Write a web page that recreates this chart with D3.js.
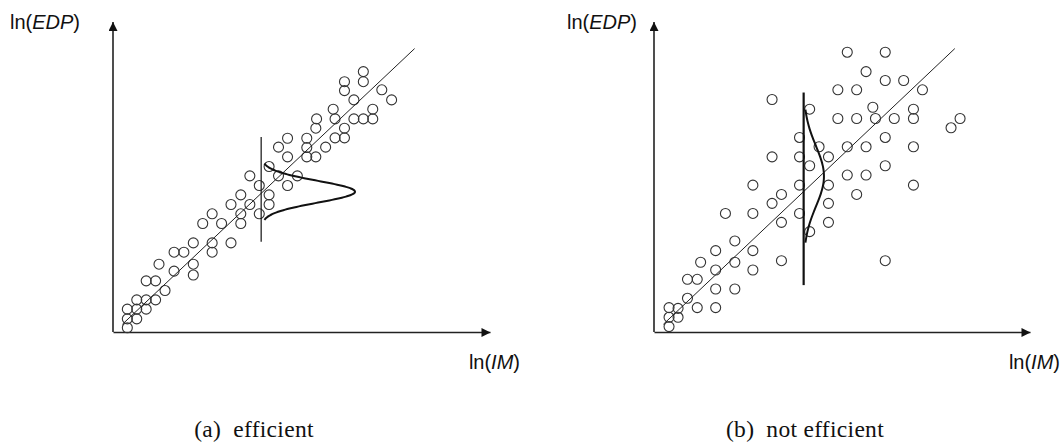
<!DOCTYPE html>
<html>
<head>
<meta charset="utf-8">
<script src="https://cdn.jsdelivr.net/npm/d3@7/dist/d3.min.js"></script>
<style>
  html, body { margin: 0; padding: 0; background: #fff; }
  svg { display: block; }
  .axlab { font-family: "Liberation Sans", Arial, sans-serif; font-size: 20px; fill: #111; }
  .caption { font-family: "Liberation Serif", "Times New Roman", serif; font-size: 23.5px; letter-spacing: 0.3px; fill: #111; }
</style>
</head>
<body>
<svg id="chart" width="1063" height="447"></svg>
<script>
// ln(IM) / ln(EDP) pairs for the efficient measure (small scatter about the fit)
const effIM  = [6.64,6.64,6.14,6.14,7.13,7.39,6.39,6.89,6.89,6.64,6.39,5.84,5.89,5.40,5.38,6.14,6.14,5.89,5.64,5.14,5.14,5.14,5.38,4.63,4.39,4.63,4.14,4.39,4.89,4.63,3.63,3.88,4.14,4.14,3.88,3.63,3.39,3.13,3.39,3.39,2.88,2.63,2.38,2.63,2.63,3.13,2.13,2.13,2.13,1.88,1.62,1.62,1.22,1.13,0.88,1.38,1.13,0.88,0.63,0.88,0.63,0.38,0.63,0.38,0.38];
const effEDP = [6.72,6.46,6.46,6.23,6.25,5.99,5.99,5.75,5.50,5.50,5.50,5.75,5.50,5.50,5.26,5.26,5.01,5.01,4.77,5.00,4.76,4.52,4.52,5.00,4.77,4.52,4.27,4.03,4.03,3.78,4.03,3.78,3.54,3.29,3.05,3.29,3.54,3.29,3.05,2.80,2.80,3.05,2.80,2.30,2.06,2.30,2.30,1.75,1.47,2.06,2.06,1.57,1.75,1.32,1.32,1.07,0.83,0.83,0.83,0.59,0.59,0.59,0.34,0.34,0.11];

// ln(IM) / ln(EDP) pairs for the inefficient measure (wide scatter about the fit)
const ineffIM  = [5.14,6.15,5.64,6.15,6.64,7.14,4.89,5.39,3.14,4.14,5.82,6.90,4.89,5.39,5.89,6.39,6.90,7.90,8.14,6.15,3.87,4.39,5.14,5.64,6.90,3.14,3.87,4.64,4.14,6.15,5.14,5.64,2.63,3.87,4.64,6.90,5.39,3.39,3.14,4.64,1.90,2.63,3.87,3.39,4.64,4.14,2.15,1.64,2.63,1.24,2.15,3.39,6.15,1.64,2.63,0.89,1.15,1.64,2.15,0.89,1.15,1.64,0.40,0.64,0.64,0.40,0.40];
const ineffEDP = [7.22,7.22,6.72,6.49,6.49,6.25,6.25,6.25,6.00,5.75,5.80,5.75,5.51,5.51,5.51,5.51,5.51,5.27,5.51,5.02,5.02,4.78,4.78,4.78,4.78,4.52,4.52,4.52,4.29,4.29,4.05,4.05,3.79,3.79,3.79,3.79,3.55,3.55,3.32,3.32,3.06,3.06,3.06,2.83,2.83,2.59,2.35,2.10,2.10,1.80,1.80,1.84,1.84,1.60,1.60,1.36,1.36,1.11,1.11,0.87,0.63,0.63,0.63,0.61,0.38,0.38,0.14];

// Fitted median line ln(EDP) = a + b ln(IM), drawn over this ln(IM) span
const fitIntercept = -0.03;
const fitSlope = 0.918;
const fitIM = [0.25, 8.0];

// Conditional distribution of ln(EDP) at a given ln(IM): [im, mean, sd, peak height, stem bottom, stem top, half-span in sd]
const effDist   = [3.93, 3.62, 0.28, 2.49, 2.33, 5.03, 2.6];
const ineffDist = [3.98, 4.02, 0.78, 0.54, 1.21, 6.18, 2.2];

const panelTitles = ["(a)\u2002efficient", "(b)\u2002not efficient"];
const yTitle = ["ln(", "EDP", ")"];
const xTitle = ["ln(", "IM", ")"];

const svg = d3.select("#chart");

const defs = svg.append("defs");
defs.append("marker")
  .attr("id", "arrow")
  .attr("viewBox", "0 0 10 10")
  .attr("refX", 10).attr("refY", 5)
  .attr("markerUnits", "userSpaceOnUse")
  .attr("markerWidth", 10).attr("markerHeight", 9)
  .attr("orient", "auto")
  .append("path")
  .attr("d", "M0,0 L10,5 L0,10 Z")
  .attr("fill", "#111");

function drawPanel(cfg) {
  const x = d3.scaleLinear().domain([0, 10]).range(cfg.xRange);
  const y = d3.scaleLinear().domain([0, 8]).range([332, 22]);
  const g = svg.append("g");

  // axes without ticks, arrow at the far end of each
  const xAxis = g.append("g")
    .attr("transform", `translate(0,${y(0)})`)
    .call(d3.axisBottom(x).tickValues([]).tickSizeOuter(0));
  xAxis.select(".domain")
    .attr("stroke", "#222").attr("stroke-width", 1.6)
    .attr("marker-end", "url(#arrow)");

  const yAxis = g.append("g")
    .attr("transform", `translate(${x(0)},0)`)
    .call(d3.axisLeft(y).tickValues([]).tickSizeOuter(0));
  yAxis.select(".domain")
    .attr("stroke", "#222").attr("stroke-width", 1.6)
    .attr("d", `M0,${y(0)}V${y(8)}`)
    .attr("marker-end", "url(#arrow)");

  // scatter points
  g.append("g").selectAll("circle")
    .data(d3.zip(cfg.im, cfg.edp))
    .join("circle")
    .attr("cx", d => x(d[0]))
    .attr("cy", d => y(d[1]))
    .attr("r", 5)
    .attr("fill", "none")
    .attr("stroke", "#333")
    .attr("stroke-width", 1.1);

  // fitted line
  g.append("line")
    .attr("x1", x(fitIM[0])).attr("y1", y(fitIntercept + fitSlope * fitIM[0]))
    .attr("x2", x(fitIM[1])).attr("y2", y(fitIntercept + fitSlope * fitIM[1]))
    .attr("stroke", "#222").attr("stroke-width", 1);

  // conditional distribution: vertical stem plus a normal density drawn sideways
  const [im, mu, sd, peak, lo, hi, span] = cfg.dist;
  g.append("line")
    .attr("x1", x(im)).attr("x2", x(im))
    .attr("y1", y(lo)).attr("y2", y(hi))
    .attr("stroke", "#111").attr("stroke-width", cfg.stemWidth);

  const ys = d3.range(-span, span + 0.001, 0.05).map(k => mu + k * sd);
  const density = d3.line()
    .x(v => x(im + peak * Math.exp(-0.5 * ((v - mu) / sd) ** 2)))
    .y(v => y(v))
    .curve(d3.curveBasis);
  g.append("path")
    .datum(ys)
    .attr("d", density)
    .attr("fill", "none")
    .attr("stroke", "#111")
    .attr("stroke-width", 2);

  // axis titles
  const yt = g.append("text").attr("class", "axlab")
    .attr("x", cfg.yTitleX).attr("y", 29);
  yt.append("tspan").text(yTitle[0]);
  yt.append("tspan").attr("font-style", "italic").text(yTitle[1]);
  yt.append("tspan").text(yTitle[2]);

  const xt = g.append("text").attr("class", "axlab")
    .attr("x", cfg.xTitleX).attr("y", 369).attr("text-anchor", "end");
  xt.append("tspan").text(xTitle[0]);
  xt.append("tspan").attr("font-style", "italic").text(xTitle[1]);
  xt.append("tspan").text(xTitle[2]);

  // caption
  g.append("text").attr("class", "caption")
    .attr("x", cfg.captionX).attr("y", 437)
    .attr("text-anchor", "middle")
    .text(cfg.title);
}

drawPanel({
  xRange: [113, 490], im: effIM, edp: effEDP, dist: effDist, stemWidth: 1.2,
  yTitleX: 10, xTitleX: 520, captionX: 254, title: panelTitles[0]
});
drawPanel({
  xRange: [654, 1030], im: ineffIM, edp: ineffEDP, dist: ineffDist, stemWidth: 2.2,
  yTitleX: 567, xTitleX: 1060, captionX: 805, title: panelTitles[1]
});
</script>
</body>
</html>
